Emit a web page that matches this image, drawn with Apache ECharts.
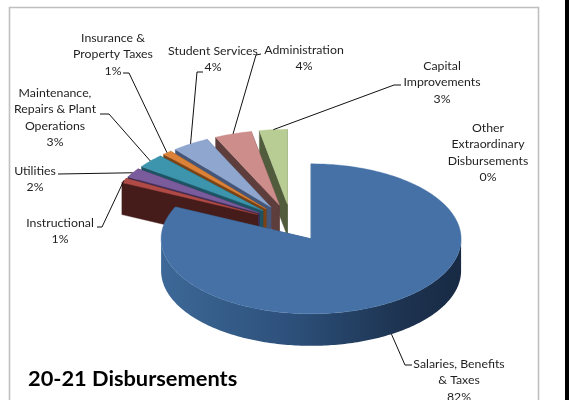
<!DOCTYPE html>
<html><head><meta charset="utf-8">
<style>html,body{margin:0;padding:0;background:#fff;overflow:hidden}#c{width:569px;height:400px}</style>
<script src="https://cdn.jsdelivr.net/npm/echarts@6/dist/echarts.min.js"></script>
</head><body><div id="c"></div>
<script>
const categories=["Salaries, Benefits\n& Taxes","Instructional","Utilities","Maintenance,\nRepairs & Plant\nOperations","Insurance &\nProperty Taxes","Student Services","Administration","Capital\nImprovements","Other\nExtraordinary\nDisbursements"];
const values=[82,1,2,3,1,4,4,3,0];
const topColors=["#4571a6","#b04a47","#7a5b9c","#3d94ad","#dc8238","#8fa7cf","#cd8d8b","#b8cd93","#888888"];
const sideColors=["#2f5078","#451c19","#3e2d55","#1d5362","#7a4316","#44567a","#5e3e3d","#505c3c","#444444"];
const labelBoxes=[[459,364,[[412,365],[405,365]]],[60,223,[[97,227],[102,227]]],[35,171,[[58,174]]],[55,93,[[100,114],[109,114]]],[113,38,[[123,73],[129,73]]],[213,51,[[203,72],[197,72]]],[304,50,[[261,54],[256,55]]],[442,66,[[401,85],[394,85]]],[488,128,[]]];
const PIE={cx:291,cy:223,rx:150,ry:75,depth:32,explode:.25};
const total=values.reduce((a,b)=>a+b,0);
const slices=[];let acc=0;
values.forEach(v=>{const a0=acc/total*360;acc+=v;const a1=acc/total*360;const m=(a0+a1)/2*Math.PI/180;
 slices.push({a0,a1,ax:PIE.cx+PIE.explode*PIE.rx*Math.sin(m),ay:PIE.cy-PIE.explode*PIE.ry*Math.cos(m)})});
const pt=(s,deg,dy=0)=>{const t=deg*Math.PI/180;return [s.ax+PIE.rx*Math.sin(t),s.ay-PIE.ry*Math.cos(t)+dy]};
function arc(s,a0,a1,dy){const n=Math.max(2,Math.ceil((a1-a0)));const out=[];for(let i=0;i<=n;i++)out.push(pt(s,a0+(a1-a0)*i/n,dy));return out}
function poly(points,fill,stroke){return {type:'polygon',shape:{points},style:{fill,stroke:stroke||fill,lineWidth:.4}}}
function renderSlice(params,api){
 const i=api.value(0),s=slices[i],kids=[];
 if(s.a1-s.a0<=0)return {type:'group',children:[]};
 const d=PIE.depth,apex=[s.ax,s.ay],apexB=[s.ax,s.ay+d];
 kids.push(poly([apex,pt(s,s.a1),pt(s,s.a1,d),apexB],sideColors[i]));
 kids.push(poly([apex,pt(s,s.a0),pt(s,s.a0,d),apexB],sideColors[i]));
 const w0=Math.max(s.a0,90),w1=Math.min(s.a1,270);
 if(w1>w0){
  const pts=arc(s,w0,w1,0).concat(arc(s,w0,w1,d).reverse());
  kids.push(poly(pts,{type:'linear',x:0,y:0,x2:1,y2:0,colorStops:[{offset:0,color:'#3d6897'},{offset:.45,color:'#2c4f79'},{offset:.8,color:'#1d3350'},{offset:1,color:'#182a44'}]},'rgba(0,0,0,0)'));
 }
 kids.push(poly([apex].concat(arc(s,s.a0,s.a1,0)),topColors[i]));
 return {type:'group',children:kids};
}
function renderLabel(params,api){
 const i=api.value(0),s=slices[i],b=labelBoxes[i],kids=[];
 const pct=Math.round(values[i]/total*100)+'%';
 const mid=(s.a0+s.a1)/2;
 if(b[2].length){
  const end=i===0?pt(s,mid,PIE.depth):pt(s,mid);
  kids.push({type:'polyline',shape:{points:b[2].concat([end])},style:{fill:'none',stroke:'#111',lineWidth:1},z2:5});
 }
 kids.push({type:'text',style:{x:b[0],y:b[1]-8,text:categories[i]+'\n'+pct,fill:'#1f1f1f',font:'12.3px Lato',lineHeight:16.3,align:'center',verticalAlign:'top'},z2:6});
 return {type:'group',children:kids};
}
const order=categories.map((c,i)=>i).reverse();
const chart=echarts.init(document.getElementById('c'),null,{renderer:'canvas'});
chart.setOption({animation:false,backgroundColor:'#fff',
 graphic:[
  {type:'polyline',shape:{points:[[9.5,400],[9.5,7.5],[538.5,7.5],[538.5,400]]},style:{fill:'none',stroke:'#bfbfbf',lineWidth:1.6},silent:true},
  {type:'rect',shape:{x:565,y:0,width:4,height:400},style:{fill:'#000'},silent:true},
  {type:'text',left:28,top:368,style:{text:'20-21 Disbursements',fill:'#000',font:'bold 21.8px Lato'},z:10}
 ],
 series:[
  {type:'custom',coordinateSystem:'none',renderItem:renderSlice,data:order.map(i=>({name:categories[i],value:[i,values[i]]})),silent:true,z:2},
  {type:'custom',coordinateSystem:'none',renderItem:renderLabel,data:categories.map((c,i)=>({name:c,value:[i,values[i]]})),silent:true,z:3}
 ]});
</script></body></html>
